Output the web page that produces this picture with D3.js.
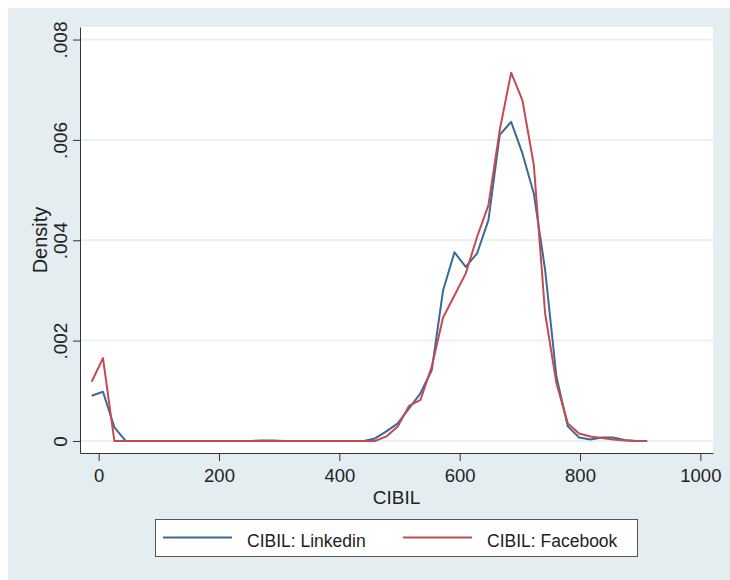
<!DOCTYPE html>
<html>
<head>
<meta charset="utf-8">
<script src="https://cdn.jsdelivr.net/npm/d3@7"></script>
<style>
  html, body { margin: 0; background: #ffffff; overflow: hidden; }
  svg { display: block; font-family: "Liberation Sans", Arial, sans-serif; }
</style>
</head>
<body>
<div id="chart"></div>
<script>
// CIBIL score evaluation points (kdensity grid, 50 points)
const cibil = [
  -11.6, 7.2, 26.1, 44.9, 63.8, 82.6, 101.4, 120.3, 139.1, 158.0,
  176.8, 195.6, 214.5, 233.3, 252.2, 271.0, 289.8, 308.7, 327.5, 346.4,
  365.2, 384.0, 402.9, 421.7, 440.6, 459.4, 478.2, 497.1, 515.9, 534.8,
  553.6, 572.4, 591.3, 610.1, 629.0, 647.8, 666.6, 685.5, 704.3, 723.2,
  742.0, 760.8, 779.7, 798.5, 817.4, 836.2, 855.0, 873.9, 892.7, 911.6
];

const densityLinkedin = [
  0.00090, 0.00098, 0.00027, 0, 0, 0, 0, 0, 0, 0,
  0, 0, 0, 0, 0, 0.00001, 0.00001, 0, 0, 0,
  0, 0, 0, 0, 0, 0.00005, 0.00019, 0.00035, 0.00065, 0.00095,
  0.00141, 0.00300, 0.00376, 0.00347, 0.00374, 0.00440, 0.00610, 0.00636, 0.00573, 0.00493,
  0.00341, 0.00128, 0.00029, 0.00007, 0.00003, 0.00007, 0.00007, 0.00002, 0, 0
];

const densityFacebook = [
  0.00118, 0.00165, 0, 0, 0, 0, 0, 0, 0, 0,
  0, 0, 0, 0, 0, 0, 0, 0, 0, 0,
  0, 0, 0, 0, 0, 0, 0.00009, 0.00029, 0.00070, 0.00082,
  0.00148, 0.00246, 0.00290, 0.00334, 0.00407, 0.00470, 0.00620, 0.00734, 0.00679, 0.00550,
  0.00254, 0.00115, 0.00035, 0.00015, 0.00009, 0.00006, 0.00003, 0.00001, 0, 0
];

const xTicks = [0, 200, 400, 600, 800, 1000];
const yTicks = [0, 0.002, 0.004, 0.006, 0.008];
const seriesNames = ["CIBIL: Linkedin", "CIBIL: Facebook"];
const seriesColors = ["#3a6a96", "#c44a53"];

const width = 730;
const height = 580;
const plot = { left: 80, right: 713, top: 27, bottom: 453 };

const svg = d3.select("#chart").append("svg")
  .attr("width", width)
  .attr("height", height);

// outer graph region
svg.append("rect")
  .attr("x", 8).attr("y", 8)
  .attr("width", width - 8).attr("height", height - 8)
  .attr("fill", "#e4edf0");

// plot region
svg.append("rect")
  .attr("x", plot.left).attr("y", plot.top)
  .attr("width", plot.right - plot.left).attr("height", plot.bottom - plot.top)
  .attr("fill", "#ffffff");

const x = d3.scaleLinear()
  .domain([-31, 1021])
  .range([plot.left, plot.right]);

const y = d3.scaleLinear()
  .domain([-0.00024, 0.00825])
  .range([plot.bottom, plot.top]);

// grid
svg.append("g")
  .selectAll("line")
  .data(yTicks)
  .enter()
  .append("line")
  .attr("x1", plot.left)
  .attr("x2", plot.right)
  .attr("y1", d => y(d))
  .attr("y2", d => y(d))
  .attr("stroke", "#e9f1f3")
  .attr("stroke-width", 2);

// axes
const fmtY = d => d === 0 ? "0" : d3.format(".3f")(d).replace(/^0/, "");

const yAxis = svg.append("g")
  .attr("transform", `translate(${plot.left},0)`)
  .call(d3.axisLeft(y).tickValues(yTicks).tickFormat(fmtY).tickSize(7).tickSizeOuter(0));

yAxis.selectAll("text")
  .attr("transform", "rotate(-90)")
  .attr("x", 0)
  .attr("y", -13)
  .attr("dy", 0)
  .attr("text-anchor", "middle")
  .style("font-size", "19px")
  .style("fill", "#222");

const xAxis = svg.append("g")
  .attr("transform", `translate(0,${plot.bottom})`)
  .call(d3.axisBottom(x).tickValues(xTicks).tickFormat(d3.format("d")).tickSize(8).tickSizeOuter(0));

xAxis.selectAll("text")
  .attr("y", 29)
  .attr("dy", 0)
  .style("font-size", "18.5px")
  .style("fill", "#222");

svg.selectAll(".domain, .tick line").attr("stroke", "#333");

// axis titles
svg.append("text")
  .attr("x", (plot.left + plot.right) / 2)
  .attr("y", 504)
  .attr("text-anchor", "middle")
  .style("font-size", "19px")
  .style("fill", "#222")
  .text("CIBIL");

svg.append("text")
  .attr("transform", `translate(47,${(plot.top + plot.bottom) / 2}) rotate(-90)`)
  .attr("text-anchor", "middle")
  .style("font-size", "20px")
  .style("fill", "#222")
  .text("Density");

// density lines
const series = [densityLinkedin, densityFacebook];
const line = d3.line()
  .x((d, i) => x(cibil[i]))
  .y(d => y(d));

svg.append("g")
  .selectAll("path")
  .data(series)
  .enter()
  .append("path")
  .attr("d", d => line(d))
  .attr("fill", "none")
  .attr("stroke", (d, i) => seriesColors[i])
  .attr("stroke-width", 2)
  .attr("stroke-linejoin", "round");

// legend
const legend = svg.append("g");
legend.append("rect")
  .attr("x", 155.5).attr("y", 519.5)
  .attr("width", 482).attr("height", 37)
  .attr("fill", "#ffffff")
  .attr("stroke", "#555")
  .attr("stroke-width", 1);

const legendX = [163, 403];
const item = legend.selectAll(".item")
  .data(seriesNames)
  .enter()
  .append("g")
  .attr("transform", (d, i) => `translate(${legendX[i]},0)`);

item.append("line")
  .attr("x1", 0).attr("x2", 69)
  .attr("y1", 537.5).attr("y2", 537.5)
  .attr("stroke", (d, i) => seriesColors[i])
  .attr("stroke-width", 2);

item.append("text")
  .attr("x", 84)
  .attr("y", 547)
  .style("font-size", "17.5px")
  .style("fill", "#222")
  .text(d => d);
</script>
</body>
</html>
